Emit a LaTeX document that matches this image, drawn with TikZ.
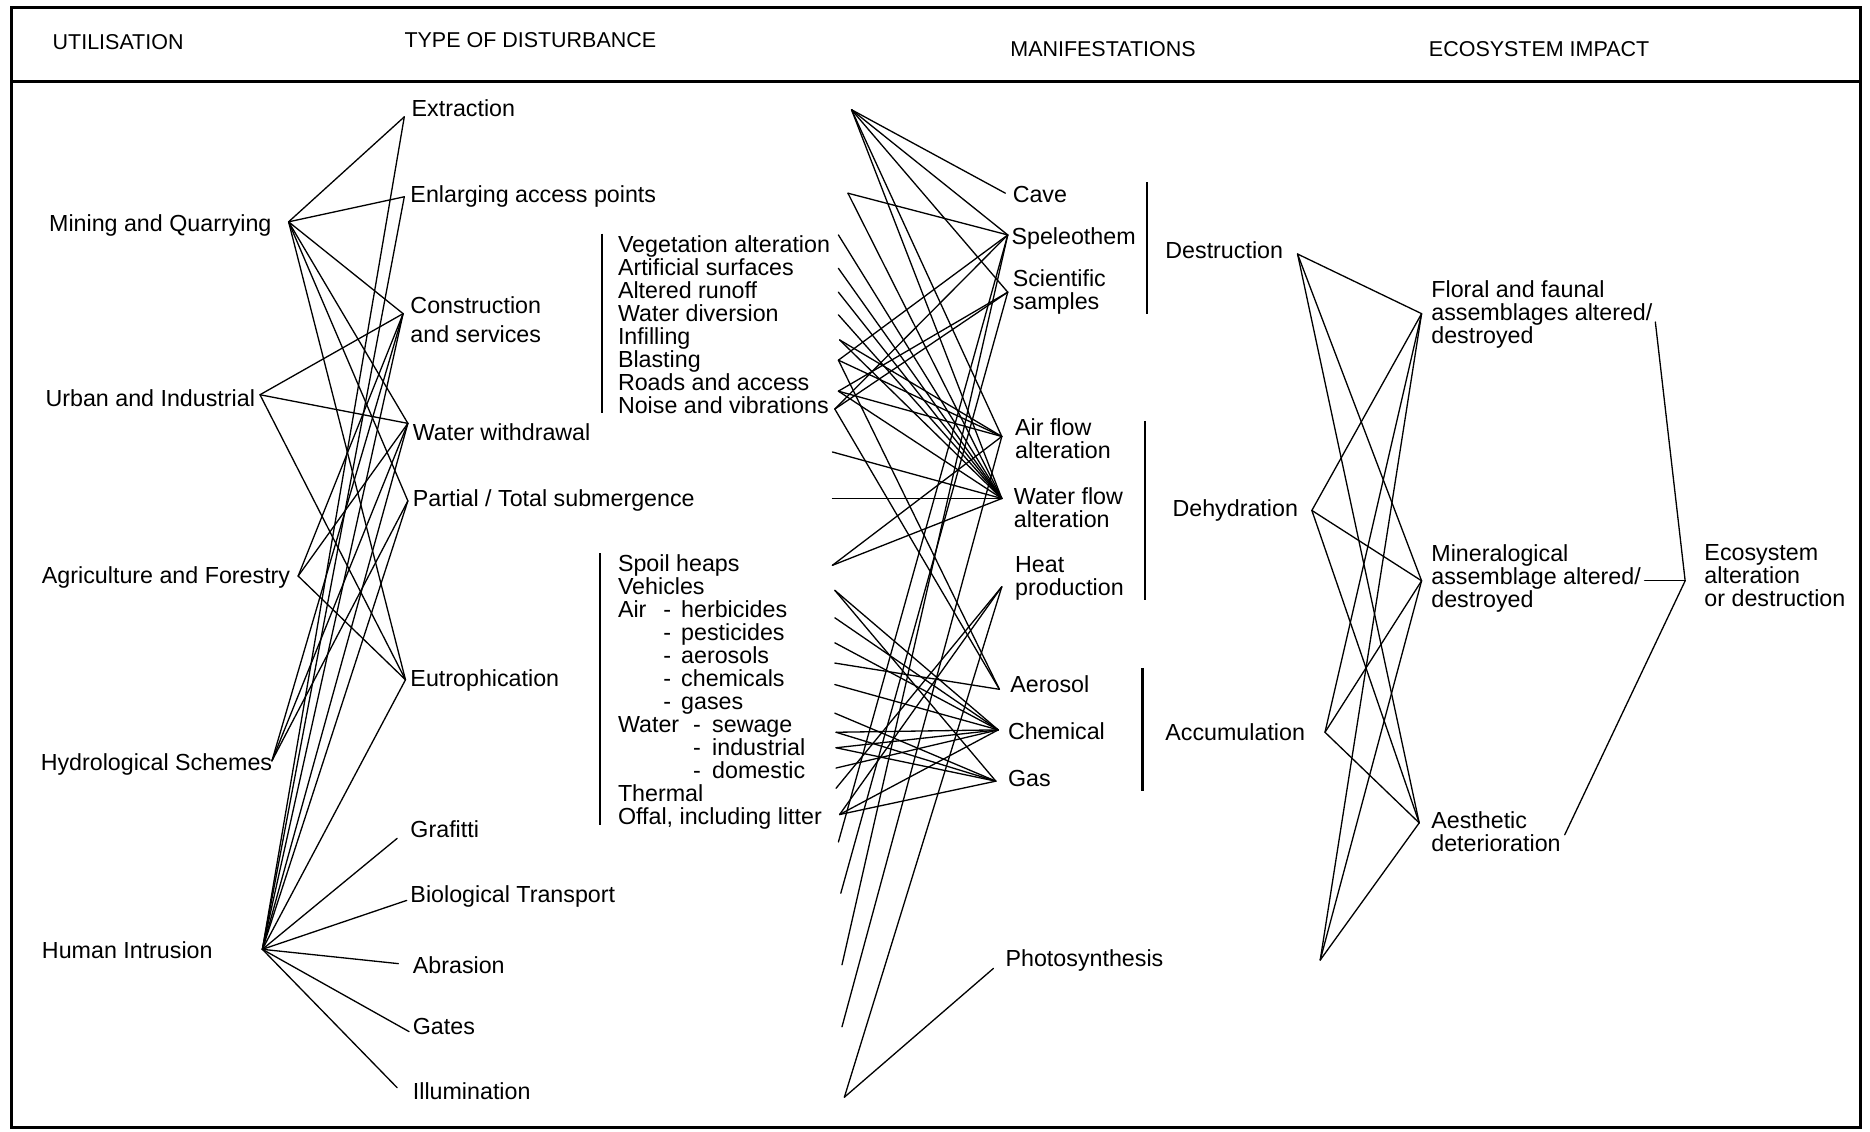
\documentclass[tikz,border=0pt]{standalone}
\usepackage{fontspec}
\setmainfont{Liberation Sans}
\begin{document}
\begin{tikzpicture}[x=1pt,y=-1pt,
  lbl/.style={anchor=west,inner sep=0pt,font=\fontsize{19.5}{19.3}\selectfont,align=left},
  hdr/.style={anchor=west,inner sep=0pt,font=\fontsize{18}{18}\selectfont},
  link/.style={line width=1.1pt,line cap=round},
  brk/.style={line width=1.8pt},
  frame/.style={line width=2.5pt}]
\useasboundingbox (0,0) rectangle (1568,949);
\fill[white] (0,0) rectangle (1568,949);
% frame
\draw[frame] (10,6) rectangle (1560,945);
\coordinate (hl) at (10,68); \coordinate (hr) at (1560,68);
\draw[frame] (hl) -- (hr);
% headers
\node[hdr] (hU) at (44,35) {UTILISATION};
\node[hdr] (hT) at (339,34) {TYPE OF DISTURBANCE};
\node[hdr] (hM) at (847,41) {MANIFESTATIONS};
\node[hdr] (hE) at (1198,41) {ECOSYSTEM IMPACT};
% utilisation
\node[lbl] (tMin) at (41,189) {Mining and Quarrying};
\node[lbl] (tUrb) at (38,334) {Urban and Industrial};
\node[lbl] (tAgr) at (35,484) {Agriculture and Forestry};
\node[lbl] (tHyd) at (34,641) {Hydrological Schemes};
\node[lbl] (tHum) at (35,797) {Human Intrusion};
% type of disturbance
\node[lbl] (tExt) at (345,91) {Extraction};
\node[lbl] (tEnl) at (344,165) {Enlarging access points};
\node[lbl] (tCon) at (344,268) {Construction\\[5.7pt]and services};
\node[lbl] (tWW) at (346,362) {Water withdrawal};
\node[lbl] (tPT) at (346,420) {Partial / Total submergence};
\node[lbl] (tEu) at (344,571) {Eutrophication};
\node[lbl] (tGr) at (344,695) {Grafitti};
\node[lbl] (tBio) at (344,752) {Biological Transport};
\node[lbl] (tAbr) at (346,809) {Abrasion};
\node[lbl] (tGat) at (346,861) {Gates};
\node[lbl] (tIll) at (346,915) {Illumination};
% lists
\node[lbl] (tL1) at (518,272) {Vegetation alteration\\Artificial surfaces\\Altered runoff\\Water diversion\\Infilling\\Blasting\\Roads and access\\Noise and vibrations};
\node[lbl] (tL2) at (518,580) {Spoil heaps\\Vehicles\\\makebox[38pt][l]{Air}-\hspace{8.5pt}herbicides\\\hspace*{38pt}-\hspace{8.5pt}pesticides\\\hspace*{38pt}-\hspace{8.5pt}aerosols\\\hspace*{38pt}-\hspace{8.5pt}chemicals\\\hspace*{38pt}-\hspace{8.5pt}gases\\\makebox[63pt][l]{Water}-\hspace{9.5pt}sewage\\\hspace*{63pt}-\hspace{9.5pt}industrial\\\hspace*{63pt}-\hspace{9.5pt}domestic\\Thermal\\Offal, including litter};
\draw[brk] (505,196) -- (505,346);
\draw[brk] (503,464) -- (503,692);
% manifestations
\node[lbl] (tCave) at (849,163) {Cave};
\node[lbl] (tSpel) at (848,200) {Speleothem};
\node[lbl] (tSci) at (849,245) {Scientific\\samples};
\node[lbl] (tAir) at (851,368) {Air flow\\alteration};
\node[lbl] (tWat) at (850,426) {Water flow\\alteration};
\node[lbl] (tHeat) at (851,485) {Heat\\production};
\node[lbl] (tAero) at (847,574) {Aerosol};
\node[lbl] (tChem) at (845,613) {Chemical};
\node[lbl] (tGas) at (845,653) {Gas};
\node[lbl] (tPho) at (843,805) {Photosynthesis};
\draw[brk] (962,153) -- (962,263);
\draw[brk] (960,353) -- (960,503);
\draw[brk] (958,560) -- (958,663);
% impact
\node[lbl] (tDes) at (977,210) {Destruction};
\node[lbl] (tDeh) at (983,428) {Dehydration};
\node[lbl] (tAcc) at (977,614) {Accumulation};
\node[lbl] (tFlo) at (1200,264) {Floral and faunal\\assemblages altered/\\destroyed};
\node[lbl] (tMinA) at (1200,485) {Mineralogical\\assemblage altered/\\destroyed};
\node[lbl] (tAes) at (1200,697) {Aesthetic\\deterioration};
\node[lbl] (tEco) at (1429,483) {Ecosystem\\alteration\\or destruction};
% connection points
\foreach \n/\p in {uMin/{242,186},uUrb/{218,331},uAgr/{250,483},uHyd/{228,638},uHum/{220,796},
  dExt/{339,98},dEnl/{339,165},dCon/{338,263},dWW/{342,355},dPT/{342,420},dEu/{340,570},
  dGr/{333,703},dBio/{341,755},dAbr/{334,808},dGat/{343,865},dIll/{333,912},
  mExt/{714,92},mEnl/{711,162},mVeg/{703,197},mArt/{703,225},mAlt/{703,245},mWD/{703,264},
  mInf/{704,285},mBla/{703,302},mRoa/{703,328},mNoi/{700,343},mWW/{698,379},mPT/{698,418},
  mSpo/{698,474},mVeh/{700,495},mHer/{700,518},mPes/{700,539},mAer/{700,556},mChe/{700,574},
  mGas/{700,598},mSew/{701,614},mInd/{701,627},mDom/{701,644},mThe/{701,661},mOff/{704,683},
  mGr/{703,706},mBio/{705,749},mAbr/{706,809},mGat/{706,861},mIll/{708,920},
  rCave/{843,162},rSpel/{845,197},rSci/{845,245},rAir/{840,366},rWat/{840,418},rHeat/{840,492},
  rAero/{838,578},rChem/{837,612},rGas/{835,655},rPho/{833,812},
  iDes/{1088,213},iDeh/{1100,428},iAcc/{1111,614},iPho/{1107,805},
  eFlo/{1192,263},eMin/{1192,487},eAes/{1190,690},
  eFloR/{1388,270},eMinR/{1379,487},eJ/{1413,487},eAesR/{1312,700}}
  \coordinate (\n) at (\p);
% utilisation -> disturbance
\foreach \a/\b in {uMin/dExt,uMin/dEnl,uMin/dCon,uMin/dWW,uMin/dPT,uMin/dEu,
  uUrb/dCon,uUrb/dWW,uUrb/dEu,
  uAgr/dCon,uAgr/dWW,uAgr/dEu,
  uHyd/dCon,uHyd/dWW,uHyd/dPT,
  uHum/dExt,uHum/dEnl,uHum/dCon,uHum/dWW,uHum/dPT,uHum/dEu,
  uHum/dGr,uHum/dBio,uHum/dAbr,uHum/dGat,uHum/dIll}
  \draw[link] (\a) -- (\b);
% disturbance -> manifestations
\foreach \a/\b in {mExt/rCave,mExt/rSpel,mExt/rSci,mExt/rAir,mExt/rWat,
  mEnl/rSpel,mEnl/rWat,
  mVeg/rWat,mArt/rWat,mAlt/rWat,mWD/rWat,mInf/rWat,mInf/rAir,
  mBla/rSpel,mBla/rAir,mBla/rAero,
  mRoa/rWat,mRoa/rAir,mRoa/rSci,
  mNoi/rSpel,mNoi/rSci,mNoi/rAero,
  mWW/rWat,mPT/rWat,mSpo/rWat,mSpo/rAir,
  mVeh/rChem,mVeh/rGas,mHer/rChem,mPes/rChem,mAer/rAero,mChe/rChem,mGas/rGas,
  mSew/rChem,mSew/rGas,mInd/rChem,mInd/rGas,mDom/rChem,mThe/rHeat,
  mOff/rChem,mOff/rGas,mOff/rHeat,
  mGr/rSpel,mBio/rSci,mAbr/rSpel,mGat/rAir,mIll/rHeat,mIll/rPho}
  \draw[link] (\a) -- (\b);
% impact -> ecosystem
\foreach \a/\b in {iDes/eFlo,iDes/eMin,iDes/eAes,
  iDeh/eFlo,iDeh/eMin,iDeh/eAes,
  iAcc/eFlo,iAcc/eMin,iAcc/eAes,
  iPho/eFlo,iPho/eMin,iPho/eAes}
  \draw[link] (\a) -- (\b);
\draw[link] (eFloR) -- (eJ) -- (eAesR);
\draw[link] (eMinR) -- (eJ);
\end{tikzpicture}
\end{document}
